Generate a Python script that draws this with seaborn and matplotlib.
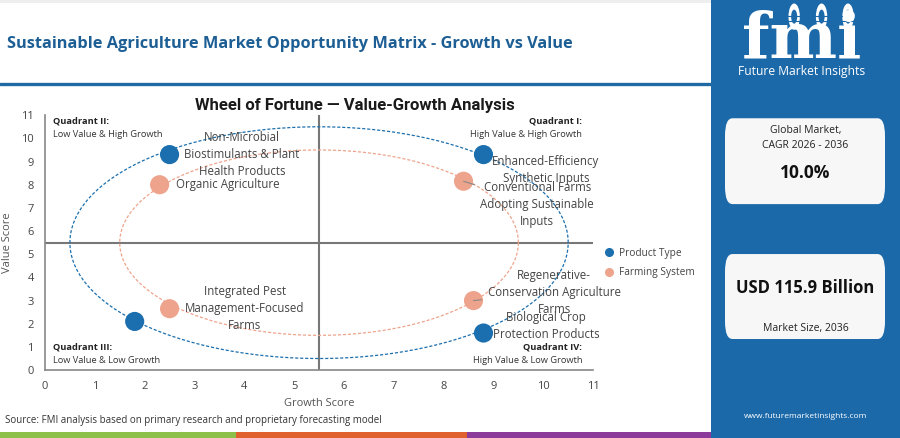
import numpy as np
import pandas as pd
import seaborn as sns
import matplotlib.pyplot as plt
from matplotlib.lines import Line2D
from matplotlib.patches import FancyBboxPatch, Rectangle, Circle

# data
names = ["Non-Microbial\nBiostimulants & Plant\nHealth Products",
         "Enhanced-Efficiency\nSynthetic Inputs",
         "",
         "Biological Crop\nProtection Products",
         "Organic Agriculture",
         "Conventional Farms\nAdopting Sustainable\nInputs",
         "Integrated Pest\nManagement-Focused\nFarms",
         "Regenerative-\nConservation Agriculture\nFarms"]
growth = [2.5, 8.8, 1.8, 8.8, 2.3, 8.4, 2.5, 8.6]
value = [9.3, 9.3, 2.1, 1.6, 8.0, 8.15, 2.65, 3.0]
group = ["Product Type"] * 4 + ["Farming System"] * 4

df = pd.DataFrame({"name": names, "growth": growth, "value": value, "group": group})

# label offsets in points (dx, dy) and whether a leader line is drawn
offsets = [(52, 0), (45, -11), (0, 0), (45, 5), (49, 0), (53, -17), (54, 0), (58, 6)]
leader = [False, False, False, False, False, True, False, True]

BLUE = "#1b6fae"
SALMON = "#eea48c"
PANEL = "#1c69aa"
palette = {"Product Type": BLUE, "Farming System": SALMON}

sns.set_style("white")
plt.rcParams["font.family"] = ["Open Sans", "DejaVu Sans"]

fig = plt.figure(figsize=(9, 4.38), dpi=100)
ax = fig.add_axes([0.05, 0.155, 0.609, 0.582])

# wheel rings
CX, CY = 5.5, 5.5
R_OUT, R_IN = 5.0, 4.0
t = np.linspace(0, 2 * np.pi, 400)
ax.plot(CX + R_OUT * np.cos(t), CY + R_OUT * np.sin(t), color=BLUE, lw=0.9,
        ls=(0, (2.5, 1.5)), zorder=1)
ax.plot(CX + R_IN * np.cos(t), CY + R_IN * np.sin(t), color=SALMON, lw=0.9,
        ls=(0, (2.5, 1.5)), zorder=1)

ax.axvline(5.5, color="#777777", lw=1.5, zorder=0)
ax.axhline(5.5, color="#777777", lw=1.5, zorder=0)

sns.scatterplot(data=df, x="growth", y="value", hue="group", palette=palette,
                s=190, edgecolor="none", legend=False, ax=ax, zorder=3)

for i, row in df.iterrows():
    if not row["name"]:
        continue
    arrow = dict(arrowstyle="-", color="#888888", lw=0.8, shrinkA=2, shrinkB=0) if leader[i] else None
    ax.annotate(row["name"], (row["growth"], row["value"]), xytext=offsets[i],
                textcoords="offset points", ha="center", va="center",
                fontsize=8.3, color="#444444", linespacing=1.4,
                arrowprops=arrow, zorder=4)

# quadrant captions
qfs = 6.7
ax.text(0.16, 10.73, "Quadrant II:", fontsize=qfs, fontweight="bold", color="#222222", va="center")
ax.text(0.16, 10.17, "Low Value & High Growth", fontsize=qfs, color="#333333", va="center")
ax.text(10.78, 10.73, "Quadrant I:", fontsize=qfs, fontweight="bold", color="#222222", va="center", ha="right")
ax.text(10.78, 10.17, "High Value & High Growth", fontsize=qfs, color="#333333", va="center", ha="right")
ax.text(0.16, 0.99, "Quadrant III:", fontsize=qfs, fontweight="bold", color="#222222", va="center")
ax.text(0.16, 0.43, "Low Value & Low Growth", fontsize=qfs, color="#333333", va="center")
ax.text(10.78, 0.99, "Quadrant IV:", fontsize=qfs, fontweight="bold", color="#222222", va="center", ha="right")
ax.text(10.78, 0.43, "High Value & Low Growth", fontsize=qfs, color="#333333", va="center", ha="right")

ax.set_xlim(0, 11)
ax.set_ylim(0, 11)
ax.set_xticks(range(0, 12))
ax.set_yticks(range(0, 12))
ax.tick_params(labelsize=8, colors="#444444", length=0, pad=8)
ax.set_xlabel("Growth Score", fontsize=8, color="#555555", labelpad=4)
ax.set_ylabel("Value Score", fontsize=8, color="#555555", labelpad=6)
sns.despine(ax=ax)
for sp in ("left", "bottom"):
    ax.spines[sp].set_color("#888888")
    ax.spines[sp].set_linewidth(1.2)

# chart title sits centred over the left page area, not the axes
fig.text(355 / 900, 1 - 106 / 438, "Wheel of Fortune \u2014 Value-Growth Analysis", fontsize=12,
         fontweight="bold", color="#1a1a1a", ha="center", va="center",
         family=["Liberation Sans Narrow", "Roboto", "DejaVu Sans"])

handles = [Line2D([], [], marker="o", ls="", color=BLUE, markersize=5.5, label="Product Type"),
           Line2D([], [], marker="o", ls="", color=SALMON, markersize=5.5, label="Farming System")]
ax.legend(handles=handles, loc="center left", bbox_to_anchor=(1.0, 0.42), frameon=False,
          fontsize=7.3, handletextpad=0.0, labelspacing=0.8, labelcolor="#444444",
          borderaxespad=0.2)

# page furniture
fig.add_artist(Rectangle((0, 1 - 3 / 438), 711 / 900, 3 / 438, transform=fig.transFigure,
                         color="#eeeeee", lw=0))
fig.text(0.008, 0.9, "Sustainable Agriculture Market Opportunity Matrix - Growth vs Value",
         fontsize=11.8, fontweight="bold", color="#1d5f95", va="center")
fig.add_artist(Line2D([0, 0.79], [0.808, 0.808], color="#1f6aa5", lw=2.4))
fig.text(0.006, 0.041, "Source: FMI analysis based on primary research and proprietary forecasting model",
         fontsize=7, color="#333333", va="center")
bar_h = 6 / 438
for x0, x1, c in [(0, 236, "#8cc04b"), (236, 467, "#e0602e"), (467, 711, "#8d3b9b")]:
    fig.add_artist(Rectangle((x0 / 900, 0), (x1 - x0) / 900, bar_h, transform=fig.transFigure,
                             color=c, lw=0))

# side panel
side = fig.add_axes([711 / 900, 0, 189 / 900, 1])
side.set_facecolor(PANEL)
side.set_xlim(0, 1)
side.set_ylim(0, 1)
side.set_xticks([])
side.set_yticks([])
for sp in side.spines.values():
    sp.set_visible(False)

side.text(0.48, 0.868, "fmi", fontsize=46, fontweight="bold", color="white", ha="center",
          va="baseline", family="DejaVu Serif")
for yy in np.arange(0.872, 0.97, 0.0115):
    side.axhline(yy, xmin=0.1, xmax=0.9, color=PANEL, lw=0.8)
for gx in (0.44, 0.585, 0.725):
    side.add_patch(Circle((gx, 0.962), 0.03, transform=side.transAxes, color="white", lw=0))
    side.add_patch(Circle((gx, 0.962), 0.016, transform=side.transAxes, color=PANEL, lw=0))
side.text(0.48, 0.836, "Future Market Insights", fontsize=8.7, color="white", ha="center", va="center")

for y0, h in [(0.534, 0.196), (0.226, 0.194)]:
    side.add_patch(FancyBboxPatch(((725 - 711) / 189, y0), 160 / 189, h,
                                  boxstyle="round,pad=0,rounding_size=0.04",
                                  transform=side.transAxes, color="#f7f7f7", lw=0))
side.text(0.5, 0.701, "Global Market,", fontsize=7.5, color="#222222", ha="center", va="center")
side.text(0.5, 0.667, "CAGR 2026 - 2036", fontsize=7.5, color="#222222", ha="center", va="center")
side.text(0.5, 0.605, "10.0%", fontsize=12.5, fontweight="bold", color="#111111", ha="center", va="center")
side.text(0.5, 0.342, "USD 115.9 Billion", fontsize=12, fontweight="bold", color="#111111", ha="center", va="center")
side.text(0.5, 0.251, "Market Size, 2036", fontsize=7.5, color="#222222", ha="center", va="center")
side.text(0.5, 0.048, "www.futuremarketinsights.com", fontsize=6, color="white", ha="center", va="center")

fig.savefig("out.png", dpi=100)
